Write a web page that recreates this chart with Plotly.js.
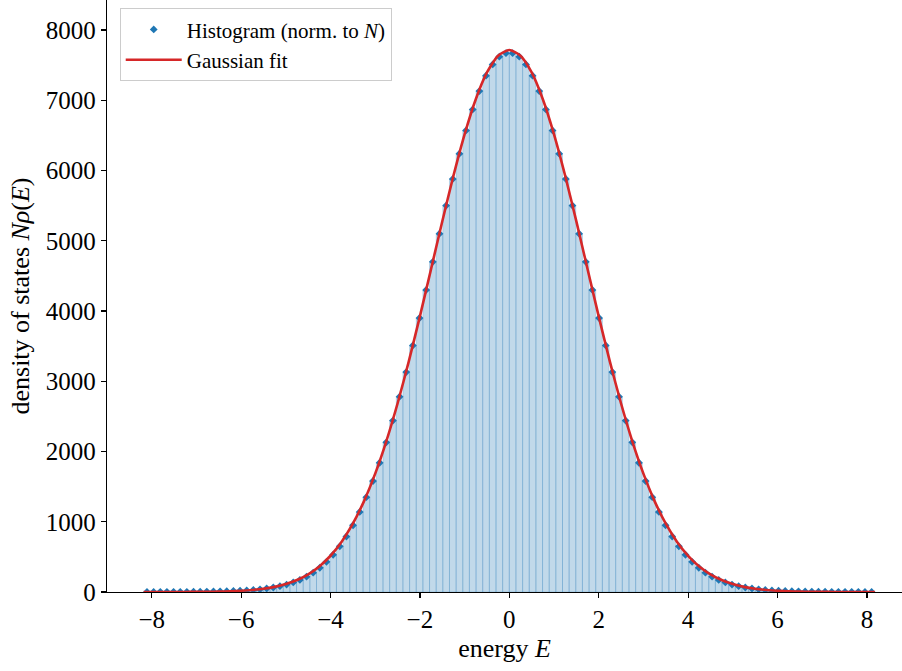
<!DOCTYPE html>
<html>
<head>
<meta charset="utf-8">
<script src="https://cdn.plot.ly/plotly-3.0.1.min.js"></script>
<style>
  html, body { margin: 0; padding: 0; background: #fff; }
  #plot { width: 902px; height: 671px; }
</style>
</head>
<body>
<div id="plot"></div>
<script>
// Histogram of the energy spectrum (counts normalised to N)
const binLow = -8.18;
const binHigh = 8.18;
const binCount = 110;

const dosCounts = [
  1, 1, 2, 2, 2, 3, 3, 4, 5, 6, 7, 9, 11, 14, 18, 23, 29, 38, 50, 64,
  83, 106, 136, 172, 218, 275, 345, 430, 530, 650, 790, 950, 1140, 1350, 1580, 1840, 2130, 2440, 2780, 3130,
  3510, 3900, 4300, 4700, 5100, 5500, 5880, 6240, 6570, 6870, 7130, 7350, 7510, 7620, 7670,
  7670, 7620, 7510, 7350, 7130, 6870, 6570, 6240, 5880, 5500, 5100, 4700, 4300, 3900, 3510,
  3130, 2780, 2440, 2130, 1840, 1580, 1350, 1140, 950, 790, 650, 530, 430, 345, 275, 218, 172, 136, 106, 83,
  64, 50, 38, 29, 23, 18, 14, 11, 9, 7, 6, 5, 4, 3, 3, 2, 2, 2, 1, 1
];

// Gaussian fit sampled along the energy axis
const fitE = [
  -8.18, -8.0, -7.75, -7.5, -7.25, -7.0, -6.75, -6.5, -6.25, -6.0, -5.75, -5.5, -5.25, -5.0, -4.75, -4.5, -4.25, -4.0,
  -3.75, -3.5, -3.25, -3.0, -2.75, -2.5, -2.25, -2.0, -1.75, -1.5, -1.25, -1.0, -0.75, -0.5, -0.25, 0.0,
  0.25, 0.5, 0.75, 1.0, 1.25, 1.5, 1.75, 2.0, 2.25, 2.5, 2.75, 3.0, 3.25, 3.5, 3.75, 4.0,
  4.25, 4.5, 4.75, 5.0, 5.25, 5.5, 5.75, 6.0, 6.25, 6.5, 6.75, 7.0, 7.25, 7.5, 7.75, 8.0, 8.18
];
const fitN = [
  0, 0, 0, 1, 1, 2, 3, 6, 10, 18, 29, 46, 73, 113, 170, 252, 364, 516,
  717, 973, 1294, 1685, 2149, 2683, 3279, 3924, 4598, 5275, 5925, 6515, 7015, 7396, 7634, 7715,
  7634, 7396, 7015, 6515, 5925, 5275, 4598, 3924, 3279, 2683, 2149, 1685, 1294, 973, 717, 516,
  364, 252, 170, 113, 73, 46, 29, 18, 10, 6, 3, 2, 1, 1, 0, 0, 0
];

const xTickVals = [-8, -6, -4, -2, 0, 2, 4, 6, 8];
const xTickText = ['\u22128', '\u22126', '\u22124', '\u22122', '0', '2', '4', '6', '8'];
const yTickVals = [0, 1000, 2000, 3000, 4000, 5000, 6000, 7000, 8000];
const yTickText = ['0', '1000', '2000', '3000', '4000', '5000', '6000', '7000', '8000'];

const binWidth = (binHigh - binLow) / binCount;
const binCenters = dosCounts.map((_, i) => binLow + (i + 0.5) * binWidth);

const serif = 'Liberation Serif, Times New Roman, serif';

const bars = {
  type: 'bar',
  x: binCenters,
  y: dosCounts,
  width: binWidth,
  marker: {
    color: 'rgba(31,119,180,0.28)',
    line: { color: 'rgba(31,119,180,0.22)', width: 1 }
  },
  showlegend: false,
  hoverinfo: 'skip'
};

const points = {
  type: 'scatter',
  mode: 'markers',
  x: binCenters,
  y: dosCounts,
  name: 'Histogram (norm. to <i>N</i>)',
  marker: { symbol: 'diamond', size: 6, color: '#1f77b4' }
};

const fit = {
  type: 'scatter',
  mode: 'lines',
  x: fitE,
  y: fitN,
  name: 'Gaussian fit',
  line: { color: '#d62728', width: 2.6, shape: 'spline', smoothing: 0.6 }
};

const layout = {
  width: 902,
  height: 671,
  margin: { l: 107, r: 0, t: 0, b: 79 },
  paper_bgcolor: '#fff',
  plot_bgcolor: '#fff',
  font: { family: serif, size: 25, color: '#000' },
  bargap: 0,
  xaxis: {
    range: [-9.0, 8.785],
    tickvals: xTickVals,
    ticktext: xTickText,
    ticks: 'outside',
    ticklen: 5,
    tickwidth: 1.2,
    tickcolor: '#000',
    showline: true,
    linecolor: '#000',
    linewidth: 1.3,
    showgrid: false,
    zeroline: false,
    tickfont: { family: serif, size: 25 },
    title: { text: 'energy <i>E</i>', font: { family: serif, size: 26 }, standoff: 6 }
  },
  yaxis: {
    range: [0, 8427],
    tickvals: yTickVals,
    ticktext: yTickText,
    ticks: 'outside',
    ticklen: 5,
    tickwidth: 1.2,
    tickcolor: '#000',
    showline: true,
    linecolor: '#000',
    linewidth: 1.3,
    showgrid: false,
    zeroline: false,
    tickfont: { family: serif, size: 25 },
    title: { text: 'density of states <i>N\u03c1</i>(<i>E</i>)', font: { family: serif, size: 26 }, standoff: 8 }
  },
  legend: {
    x: 0.016, y: 0.986, xanchor: 'left', yanchor: 'top',
    bgcolor: 'rgba(255,255,255,0.85)',
    bordercolor: '#cccccc',
    borderwidth: 1,
    font: { family: serif, size: 21 },
    itemwidth: 56,
    tracegroupgap: 0
  }
};

Plotly.newPlot('plot', [bars, points, fit], layout, { staticPlot: true });
</script>
</body>
</html>
